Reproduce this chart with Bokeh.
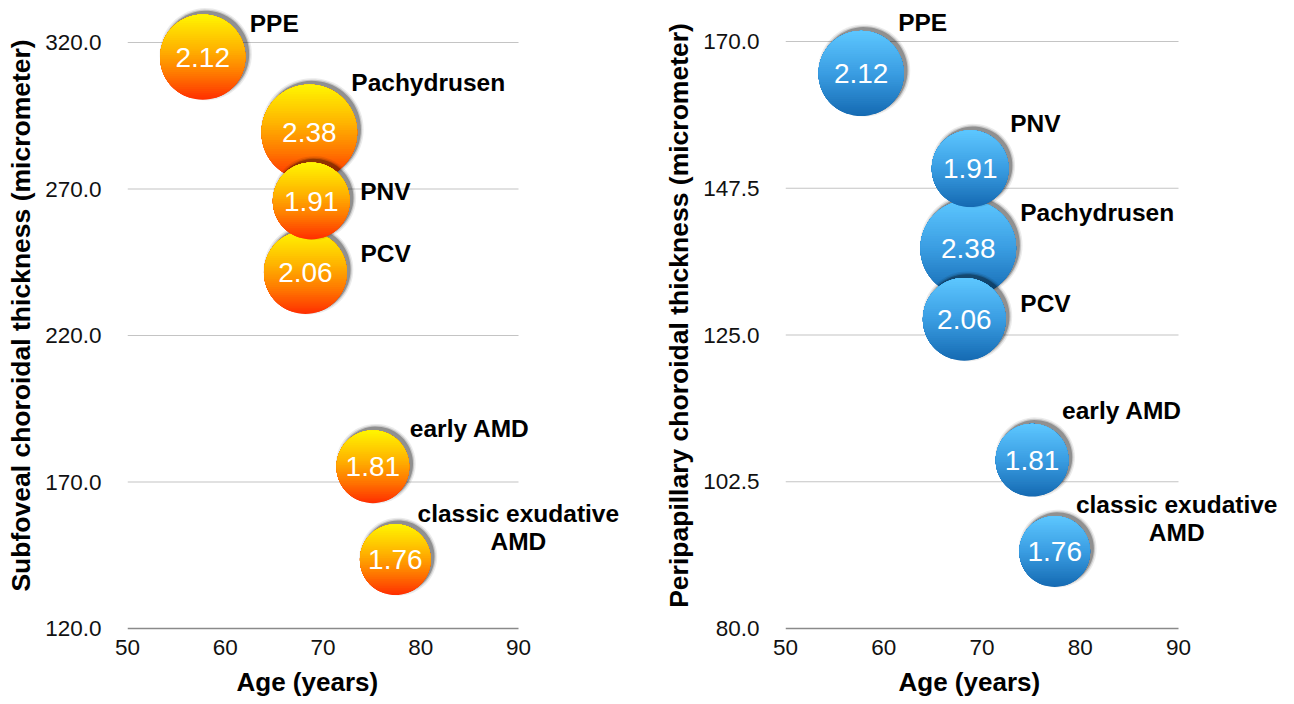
import numpy as np
from bokeh.plotting import figure
from bokeh.models import ColumnDataSource, FixedTicker, LabelSet, Range1d, Title
from bokeh.layouts import row
from bokeh.embed import file_html
from bokeh.resources import INLINE
from bokeh.core.properties import value

# ---------------- data ----------------
categories = ["PPE", "Pachydrusen", "PNV", "PCV", "early AMD", "classic exudative\nAMD"]
age = [57.7, 68.6, 68.8, 68.2, 75.1, 77.4]
subfoveal = [315.0, 289.3, 265.9, 241.5, 175.2, 143.5]
peripapillary = [165.1, 138.3, 150.5, 127.4, 105.8, 91.8]
bubble_size = [2.12, 2.38, 1.91, 2.06, 1.81, 1.76]
size_labels = ["2.12", "2.38", "1.91", "2.06", "1.81", "1.76"]

x_ticks = [50, 60, 70, 80, 90]
left_ticks = [120.0, 170.0, 220.0, 270.0, 320.0]
right_ticks = [80.0, 102.5, 125.0, 147.5, 170.0]

# ---------------- style / layout ----------------
FONT = "Liberation Sans"
RADIUS_PER_UNIT = 20.1          # bubble radius in px per size unit
FRAME_H = 630
FIG_H = 704
ORANGE = [(0.0, "#FF2E00"), (0.3, "#FF7800"), (0.6, "#FFB400"), (1.0, "#FFF600")]
BLUE = [(0.0, "#156AB2"), (0.5, "#3A9DE2"), (1.0, "#5DC7FF")]

# label offsets (px) for each category label, relative to bubble centre (y up)
left_label_dx = [47, 42, 49, 55, 37, 123]
left_label_dy = [34, 50, 10, 19, 38, 32]
right_label_dx = [37, 52, 40, 56, 30, 122]
right_label_dy = [51, 36, 45, 16, 50, 33]
LINE_STEP = 28


def hex2rgb(h):
    h = h.lstrip("#")
    return np.array([int(h[i:i + 2], 16) for i in (0, 2, 4)], dtype=float)


def grad(stops, t):
    for (t0, c0), (t1, c1) in zip(stops[:-1], stops[1:]):
        if t <= t1:
            f = (t - t0) / (t1 - t0) if t1 > t0 else 0
            c = hex2rgb(c0) * (1 - f) + hex2rgb(c1) * f
            return "#%02x%02x%02x" % tuple(int(round(v)) for v in c)
    return stops[-1][1]


def make_panel(yvals, ylabel, ticks, px_y, width, bl, px_x, stops, ldx, ldy, xtitle_offset):
    fw = width - bl
    y0 = ticks[0] - 2.0 / px_y
    yr = (y0, y0 + FRAME_H / px_y)
    xr = (x_ticks[0], x_ticks[0] + fw / px_x)
    p = figure(width=width, height=FIG_H, x_range=Range1d(*xr), y_range=Range1d(*yr),
               output_backend="svg", toolbar_location=None,
               min_border_left=bl, min_border_right=0, min_border_top=0,
               min_border_bottom=FIG_H - FRAME_H)
    p.outline_line_color = None
    p.background_fill_color = "white"
    p.border_fill_color = "white"
    sx, sy = px_x, px_y

    # axes
    p.xaxis.ticker = FixedTicker(ticks=x_ticks)
    p.yaxis.ticker = FixedTicker(ticks=ticks)
    p.yaxis.major_label_overrides = {t: "%.1f" % t for t in ticks}
    for ax in (p.xaxis[0], p.yaxis[0]):
        ax.axis_line_color = None
        ax.major_tick_out = 0
        ax.major_tick_in = 0
        ax.minor_tick_out = 0
        ax.minor_tick_in = 0
        ax.major_label_text_font = FONT
        ax.major_label_text_font_size = "22.5px"
        ax.major_label_text_color = "#111111"
        ax.axis_label_text_font = FONT
        ax.axis_label_text_font_style = "bold"
        ax.axis_label_text_color = "black"
        ax.axis_label_text_font_size = "26.5px"
    p.yaxis.major_label_standoff = 26
    p.yaxis.axis_label = ylabel
    p.yaxis.axis_label_standoff = 6
    p.xaxis.major_label_standoff = 9
    p.xgrid.grid_line_color = None
    p.ygrid.grid_line_color = None

    # x-axis title, placed under the ticked span 50-90
    xt = Title(text="Age (years)", align="left", offset=xtitle_offset, standoff=15,
               text_font=FONT, text_font_style="bold", text_font_size="26px",
               text_color="black")
    p.add_layout(xt, "below")

    # gridlines (only over the ticked x span) and bottom axis line
    n = len(ticks)
    p.segment(x0=[x_ticks[0]] * (n - 1), x1=[x_ticks[-1]] * (n - 1), y0=ticks[1:], y1=ticks[1:],
              line_color="#C4C4C4", line_width=1.2)
    p.segment(x0=[x_ticks[0]], x1=[x_ticks[-1]], y0=[ticks[0]], y1=[ticks[0]],
              line_color="#8a8a8a", line_width=1.4)

    # bubbles: shadow + vertical gradient built from stacked circle segments
    xs, ys, cols, alphas = [], [], [], []
    order = sorted(range(len(age)), key=lambda i: -bubble_size[i])
    K = 40
    for i in order:
        cx, cy = age[i], yvals[i]
        r = RADIUS_PER_UNIT * bubble_size[i]
        for extra, a in ((3.5, 0.08), (2.0, 0.15), (0.8, 0.28)):
            th = np.linspace(0, 2 * np.pi, 72)
            xs.append(list(cx + (3.0 + (r + extra) * np.cos(th)) / sx))
            ys.append(list(cy + (3.0 + (r + extra) * np.sin(th)) / sy))
            cols.append("#000000")
            alphas.append(a)
        for k in range(K):
            h = -r + 2 * r * k / K
            a0 = np.arcsin(np.clip(h / r, -1, 1))
            th = np.linspace(a0, np.pi - a0, 72)
            xs.append(list(cx + r * np.cos(th) / sx))
            ys.append(list(cy + r * np.sin(th) / sy))
            cols.append(grad(stops, (k + 0.5) / K))
            alphas.append(1.0)
    p.patches(xs=xs, ys=ys, fill_color=cols, fill_alpha=alphas, line_color=None)

    src = ColumnDataSource(dict(x=age, y=yvals, v=size_labels))
    p.text(x="x", y="y", text="v", source=src, text_color="white",
           text_font=value(FONT), text_font_size="28px",
           text_align="center", text_baseline="middle")

    # category labels (multi-line labels split into centred lines)
    lx, ly, lt, ldxs, ldys, lal = [], [], [], [], [], []
    for i, cat in enumerate(categories):
        lines = cat.split("\n")
        m = len(lines)
        for j, line in enumerate(lines):
            lx.append(age[i]); ly.append(yvals[i]); lt.append(line)
            ldxs.append(ldx[i])
            ldys.append(ldy[i] - (j - (m - 1) / 2) * LINE_STEP)
            lal.append("left" if m == 1 else "center")
    lsrc = ColumnDataSource(dict(x=lx, y=ly, t=lt, dx=ldxs, dy=ldys, al=lal))
    labels = LabelSet(x="x", y="y", text="t", source=lsrc, x_offset="dx", y_offset="dy",
                      text_align="al", text_baseline="middle",
                      text_font=value(FONT), text_font_size="24.5px", text_font_style="bold",
                      text_color="black")
    p.add_layout(labels)
    return p


p1 = make_panel(subfoveal, "Subfoveal choroidal thickness (micrometer)",
                left_ticks, 2.93, 650, 127, 9.775, ORANGE, left_label_dx, left_label_dy, 109)
p2 = make_panel(peripapillary, "Peripapillary choroidal thickness (micrometer)",
                right_ticks, 6.522, 644, 135, 9.825, BLUE, right_label_dx, right_label_dy, 113)

layout = row(p1, p2)
open("out.html", "w").write(file_html(layout, INLINE))
